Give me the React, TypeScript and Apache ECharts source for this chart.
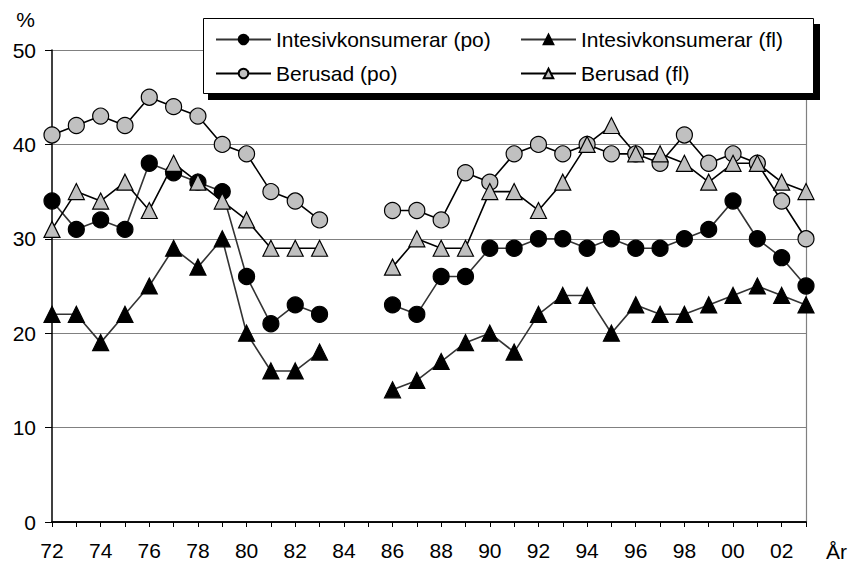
import React, { useEffect, useRef } from 'react';
import * as echarts from 'echarts';

const years = ['72', '73', '74', '75', '76', '77', '78', '79', '80', '81', '82', '83', '84', '85', '86', '87', '88', '89', '90', '91', '92', '93', '94', '95', '96', '97', '98', '99', '00', '01', '02', '03'];

const intensivPo = [34, 31, 32, 31, 38, 37, 36, 35, 26, 21, 23, 22, null, null, 23, 22, 26, 26, 29, 29, 30, 30, 29, 30, 29, 29, 30, 31, 34, 30, 28, 25];
const intensivFl = [22, 22, 19, 22, 25, 29, 27, 30, 20, 16, 16, 18, null, null, 14, 15, 17, 19, 20, 18, 22, 24, 24, 20, 23, 22, 22, 23, 24, 25, 24, 23];
const berusadPo = [41, 42, 43, 42, 45, 44, 43, 40, 39, 35, 34, 32, null, null, 33, 33, 32, 37, 36, 39, 40, 39, 40, 39, 39, 38, 41, 38, 39, 38, 34, 30];
const berusadFl = [31, 35, 34, 36, 33, 38, 36, 34, 32, 29, 29, 29, null, null, 27, 30, 29, 29, 35, 35, 33, 36, 40, 42, 39, 39, 38, 36, 38, 38, 36, 35];

const seriesNames = ['Intesivkonsumerar (po)', 'Intesivkonsumerar (fl)', 'Berusad (po)', 'Berusad (fl)'];
const yTicks = { min: 0, max: 50, interval: 10 };

const FONT = "'Liberation Sans', Arial, sans-serif";

export default function App() {
  const ref = useRef<HTMLDivElement>(null);
  useEffect(() => {
    if (!ref.current) return;
    const chart = echarts.init(ref.current, undefined, { renderer: 'svg' });
    const legendBase = {
      orient: 'horizontal',
      padding: 0,
      itemWidth: 55,
      itemHeight: 12,
      selectedMode: false,
      textStyle: { fontSize: 21, fontFamily: FONT, color: '#000' },
    };
    const mk = (name: string, data: (number | null)[], symbol: string, fill: string, lineColor: string) => ({
      name,
      type: 'line',
      data,
      connectNulls: false,
      symbol,
      symbolSize: 16,
      showSymbol: true,
      showAllSymbol: true,
      itemStyle: { color: fill, borderColor: '#000', borderWidth: 1.2 },
      lineStyle: { color: lineColor, width: 1.6 },
      emphasis: { disabled: true },
    });
    chart.setOption({
      animation: false,
      backgroundColor: '#fff',
      textStyle: { fontFamily: FONT },
      grid: { left: 52, right: 44, top: 50, bottom: 39, containLabel: false },
      legend: [
        { ...legendBase, data: [seriesNames[0]], left: 215, top: 29 },
        { ...legendBase, data: [seriesNames[1]], left: 520, top: 29 },
        { ...legendBase, data: [seriesNames[2]], left: 215, top: 63 },
        { ...legendBase, data: [seriesNames[3]], left: 520, top: 63 },
      ],
      xAxis: [
        {
          type: 'category',
          data: years,
          boundaryGap: false,
          name: 'År',
          nameLocation: 'end',
          nameGap: 20,
          nameTextStyle: { fontSize: 21, fontFamily: FONT, color: '#000', verticalAlign: 'top', padding: [19, 0, 0, 0] },
          axisLine: { lineStyle: { color: '#000', width: 1.5 } },
          axisTick: { show: true, interval: 0, length: 5, lineStyle: { color: '#000' } },
          axisLabel: { interval: 1, fontSize: 21, color: '#000', fontFamily: FONT, margin: 18 },
          splitLine: { show: false },
        },
        {
          type: 'category',
          data: years,
          boundaryGap: false,
          position: 'top',
          axisLine: { show: true, lineStyle: { color: '#000', width: 1.5 } },
          axisTick: { show: false },
          axisLabel: { show: false },
          splitLine: { show: false },
        },
      ],
      yAxis: [
        {
          type: 'value',
          min: yTicks.min,
          max: yTicks.max,
          interval: yTicks.interval,
          name: '%',
          nameLocation: 'end',
          nameGap: 20,
          nameTextStyle: { fontSize: 21, fontFamily: FONT, color: '#000', align: 'right', padding: [0, 17, 0, 0] },
          axisLine: { show: true, lineStyle: { color: '#000', width: 1.5 } },
          axisTick: { show: true, length: 7, lineStyle: { color: '#000' } },
          axisLabel: { fontSize: 21, color: '#000', fontFamily: FONT, margin: 16 },
          splitLine: { show: true, lineStyle: { color: '#808080', width: 1.2 } },
        },
        {
          type: 'value',
          min: yTicks.min,
          max: yTicks.max,
          interval: yTicks.interval,
          position: 'right',
          axisLine: { show: true, lineStyle: { color: '#808080', width: 1.2 } },
          axisTick: { show: false },
          axisLabel: { show: false },
          splitLine: { show: false },
        },
      ],
      graphic: [
        { type: 'rect', z: 3, shape: { x: 208, y: 24, width: 612, height: 76 }, style: { fill: '#000' } },
        { type: 'rect', z: 3, shape: { x: 203.5, y: 18.5, width: 610, height: 75 }, style: { fill: '#fff', stroke: '#000', lineWidth: 1 } },
      ],
      series: [
        mk(seriesNames[0], intensivPo, 'circle', '#000', '#333'),
        mk(seriesNames[1], intensivFl, 'triangle', '#000', '#333'),
        mk(seriesNames[2], berusadPo, 'circle', '#c0c0c0', '#000'),
        mk(seriesNames[3], berusadFl, 'triangle', '#c0c0c0', '#000'),
      ],
    });
    return () => chart.dispose();
  }, []);
  return <div ref={ref} style={{ position: 'fixed', left: 0, top: 0, width: 850, height: 562 }} />;
}
